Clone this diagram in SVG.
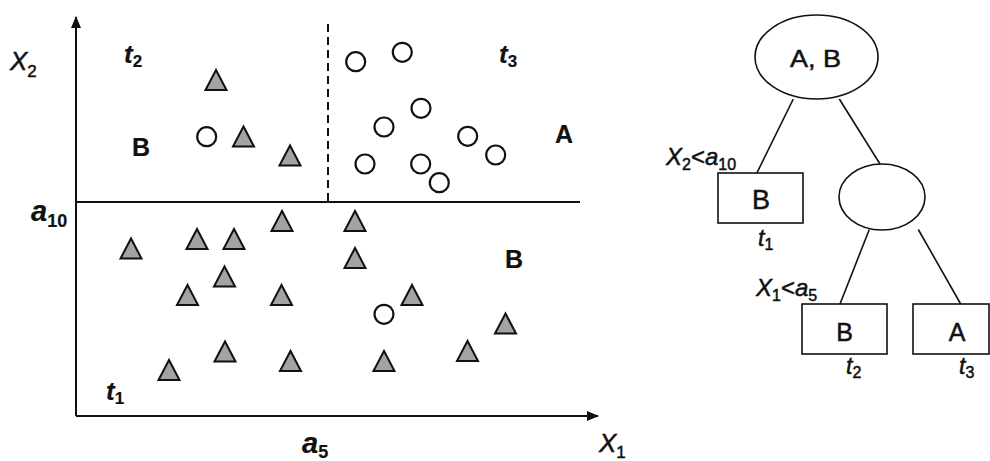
<svg xmlns="http://www.w3.org/2000/svg" xmlns:xlink="http://www.w3.org/1999/xlink" width="990" height="461" viewBox="0 0 990 461">
<style>
text{font-family:"Liberation Sans",Arial,sans-serif;fill:#111;stroke:#111;stroke-width:0.5}
.ax{stroke:#111;stroke-width:2;fill:none}
.tri{fill:#a3a3a3;stroke:#111;stroke-width:2;stroke-linejoin:miter}
.cir{fill:#fff;stroke:#111;stroke-width:2.2}
.nd{fill:#fff;stroke:#111;stroke-width:1.6}
.ed{stroke:#111;stroke-width:1.6;fill:none}
.bi{font-weight:bold;font-style:italic;stroke-width:0.2}
.it{font-style:italic}
.b{font-weight:bold;stroke-width:0.2}
</style>
<defs>
<polygon id="tri" class="tri" points="0,-10 -10.5,10 10.5,10"/>
<circle id="cir" class="cir" r="9.5"/>
<marker id="ah" viewBox="0 0 12 10" refX="11" refY="5" markerWidth="12" markerHeight="10" markerUnits="userSpaceOnUse" orient="auto">
<path d="M0,0 L12,5 L0,10 Z" fill="#111"/>
</marker>
</defs>
<rect width="990" height="461" fill="#fff"/>

<g id="plot">
<line class="ax" x1="76" y1="416" x2="76" y2="17" marker-end="url(#ah)"/>
<line class="ax" x1="76" y1="416" x2="598" y2="416" marker-end="url(#ah)"/>
<line class="ax" x1="76" y1="202" x2="580" y2="202"/>
<line class="ax" x1="328" y1="24" x2="328" y2="202" stroke-dasharray="8,5"/>

<use xlink:href="#tri" x="216" y="80"/>
<use xlink:href="#tri" x="243.5" y="136.5"/>
<use xlink:href="#tri" x="290" y="155.5"/>
<use xlink:href="#tri" x="282" y="221"/>
<use xlink:href="#tri" x="131" y="248.5"/>
<use xlink:href="#tri" x="197" y="239"/>
<use xlink:href="#tri" x="234" y="239"/>
<use xlink:href="#tri" x="224.5" y="276.5"/>
<use xlink:href="#tri" x="187.5" y="295"/>
<use xlink:href="#tri" x="281.5" y="295"/>
<use xlink:href="#tri" x="225" y="351.5"/>
<use xlink:href="#tri" x="169" y="370"/>
<use xlink:href="#tri" x="290.5" y="361"/>
<use xlink:href="#tri" x="355" y="221"/>
<use xlink:href="#tri" x="355" y="258"/>
<use xlink:href="#tri" x="412" y="295"/>
<use xlink:href="#tri" x="505.5" y="323.5"/>
<use xlink:href="#tri" x="467.5" y="351"/>
<use xlink:href="#tri" x="384" y="361"/>

<use xlink:href="#cir" x="355.7" y="61.7"/>
<use xlink:href="#cir" x="402.3" y="52.3"/>
<use xlink:href="#cir" x="421" y="108.3"/>
<use xlink:href="#cir" x="384" y="127"/>
<use xlink:href="#cir" x="467.7" y="136.3"/>
<use xlink:href="#cir" x="495.7" y="155"/>
<use xlink:href="#cir" x="365" y="164"/>
<use xlink:href="#cir" x="420.7" y="164"/>
<use xlink:href="#cir" x="439.3" y="182.7"/>
<use xlink:href="#cir" x="206.7" y="136.7"/>
<use xlink:href="#cir" x="384" y="314.3"/>

<text x="10" y="70" font-size="26" class="it">X<tspan font-size="17" font-style="normal" dy="7">2</tspan></text>
<text x="124" y="63" font-size="26" class="bi">t<tspan font-size="17" font-style="normal" dy="4">2</tspan></text>
<text x="499" y="63" font-size="26" class="bi">t<tspan font-size="17" font-style="normal" dy="4">3</tspan></text>
<text x="106" y="400" font-size="26" class="bi">t<tspan font-size="17" font-style="normal" dy="4">1</tspan></text>
<text x="132" y="156" font-size="25" class="b">B</text>
<text x="555" y="143" font-size="25" class="b">A</text>
<text x="505" y="268" font-size="25" class="b">B</text>
<text x="31" y="221" font-size="29" class="bi">a<tspan font-size="18" font-style="normal" dy="6">10</tspan></text>
<text x="302" y="453" font-size="29" class="bi">a<tspan font-size="18" font-style="normal" dy="5">5</tspan></text>
<text x="599" y="452" font-size="26" class="it">X<tspan font-size="17" font-style="normal" dy="6">1</tspan></text>
</g>

<g id="connectors">
<line class="ed" x1="793.3" y1="99" x2="756.7" y2="173.3"/>
<line class="ed" x1="839.3" y1="99" x2="880" y2="164"/>
<line class="ed" x1="869.3" y1="229.5" x2="840" y2="304"/>
<line class="ed" x1="918.3" y1="229.5" x2="960.7" y2="304"/>
</g>

<g id="root">
<ellipse class="nd" cx="816.5" cy="57" rx="61.5" ry="42"/>
<text x="815.5" y="67" font-size="24" text-anchor="middle" textLength="51" lengthAdjust="spacingAndGlyphs">A, B</text>
</g>
<g id="leaf-t1">
<rect class="nd" x="718" y="173" width="85" height="50"/>
<text x="761" y="209" font-size="27" text-anchor="middle">B</text>
<text x="758" y="246" font-size="23" class="it">t<tspan font-size="16" font-style="normal" dy="4">1</tspan></text>
</g>
<g id="inner">
<ellipse class="nd" cx="882" cy="197" rx="43" ry="33"/>
</g>
<g id="leaf-t2">
<rect class="nd" x="802" y="304" width="85" height="50"/>
<text x="844.5" y="341" font-size="25" text-anchor="middle">B</text>
<text x="846" y="374" font-size="23" class="it">t<tspan font-size="16" font-style="normal" dy="4">2</tspan></text>
</g>
<g id="leaf-t3">
<rect class="nd" x="913" y="304" width="76" height="50"/>
<text x="957" y="341" font-size="25" text-anchor="middle">A</text>
<text x="959" y="374" font-size="23" class="it">t<tspan font-size="16" font-style="normal" dy="4">3</tspan></text>
</g>
<g id="labels">
<text x="666" y="165" font-size="24" class="it">X<tspan font-size="16" font-style="normal" dy="5">2</tspan><tspan font-style="normal" dy="-5">&lt;</tspan><tspan>a</tspan><tspan font-size="16" font-style="normal" dy="5">10</tspan></text>
<text x="756" y="296" font-size="24" class="it">X<tspan font-size="16" font-style="normal" dy="5">1</tspan><tspan font-style="normal" dy="-5">&lt;</tspan><tspan>a</tspan><tspan font-size="16" font-style="normal" dy="5">5</tspan></text>
</g>
</svg>
